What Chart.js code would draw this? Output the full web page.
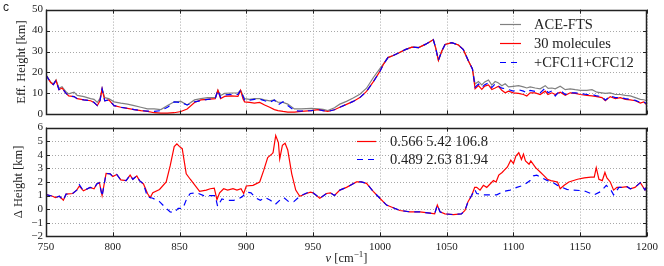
<!DOCTYPE html>
<html><head><meta charset="utf-8">
<script src="https://cdn.jsdelivr.net/npm/chart.js@4.4.1/dist/chart.umd.min.js"></script>
<style>
html,body{margin:0;padding:0;background:#fff;}
#wrap{position:relative;width:664px;height:266px;overflow:hidden;background:#fff;}
canvas{position:absolute;left:0;}
</style></head><body>
<div id="wrap">
<canvas id="top" width="664" height="124" style="top:0"></canvas>
<canvas id="bot" width="664" height="148" style="top:118px"></canvas>
</div>
<script>
// ---------- data (wavenumber in cm^-1, value) ----------
const wavenumberTicks = [750,800,850,900,950,1000,1050,1100,1150,1200];
const effHeightTicks = [0,10,20,30,40,50];
const deltaTicks = [-2,-1,0,1,2,3,4,5,6];
const topLegendLabels = ['ACE-FTS','30 molecules','+CFC11+CFC12'];
const botLegendLabels = ['0.566 5.42 106.8','0.489 2.63 81.94'];
const xAxisTitle = ['ν', ' [cm', '−1', ']'];

const aceFtsHeight = [[750,18.8],[753.5,15.5],[755.5,14.5],[757.5,16.5],[759.7,12.5],[762,13.2],[764.7,11.0],[767,9.8],[771,10.6],[773.4,9.1],[778.4,8.5],[783.4,7.5],[786,7.2],[788.4,5.7],[790.4,7.5],[792,12.2],[794,8.0],[797,7.5],[801,6.0],[806,5.4],[811,4.9],[816,4.2],[821,3.4],[826,2.6],[831,2.6],[836,2.3],[841,4.2],[846,6.0],[851,6.2],[855.7,4.5],[861.2,6.9],[866,7.5],[871,8.0],[876.7,8.0],[878.7,11.5],[880.7,9.0],[883.7,10.0],[888.7,10.2],[893.7,10.2],[895.7,11.5],[898.7,7.5],[902.5,7.2],[906,7.5],[910,7.5],[913.7,6.9],[917.5,6.5],[921,6.9],[923.7,5.8],[927.5,5.7],[931,4.9],[936,2.6],[941,2.6],[948.7,2.9],[953.7,2.6],[957.5,2.4],[961,1.8],[966,3.2],[970,4.9],[975,6.2],[980,7.8],[985,9.6],[990,12.5],[995,17.5],[1000,21.8],[1002.5,24.0],[1006,27.1],[1010,28.1],[1014,29.3],[1019,30.9],[1024,32.1],[1029,31.9],[1034,33.4],[1037.5,34.7],[1040,35.7],[1041.8,31.6],[1043.8,25.8],[1046.3,30.1],[1048.8,33.4],[1053.8,34.2],[1058.8,33.1],[1062.5,30.9],[1066.3,25.5],[1069.3,21.7],[1071.3,14.5],[1073.8,15.7],[1076.3,14.1],[1078.5,15.5],[1081.3,16.4],[1083.8,14.0],[1086.3,15.7],[1088.8,15.0],[1091.3,13.7],[1093.8,14.6],[1096.3,13.1],[1100,13.4],[1103.8,13.7],[1107.5,13.1],[1110,12.6],[1112.5,13.1],[1116.3,12.6],[1120,12.2],[1123.8,13.7],[1126,12.4],[1128.8,12.6],[1131.3,12.2],[1135,13.4],[1138.8,11.8],[1142.5,12.2],[1146.3,11.8],[1150,11.5],[1155,11.5],[1158.8,11.8],[1162.5,10.6],[1166.3,10.3],[1168.8,10.0],[1172.5,10.3],[1176.3,9.5],[1180,9.5],[1183.8,9.1],[1187.5,8.8],[1191.3,8.0],[1195,7.2],[1197.5,7.0],[1200,6.5]];

const molecules30Height = [[750,18.8],[753.5,15.2],[755.5,14.2],[757.5,16.2],[759.7,11.8],[762,12.6],[764.7,10.3],[767,8.8],[771,8.5],[773.4,7.5],[778.4,6.9],[783.4,6.5],[786,5.7],[788.4,4.2],[790.4,6.5],[792,12.2],[794,6.5],[797,6.9],[801,4.2],[806,3.4],[811,2.9],[816,2.3],[821,1.8],[826,1.4],[831,0.8],[836,0.6],[841,0.6],[846,0.8],[851,1.4],[855.7,2.6],[861.2,5.7],[866,6.9],[871,7.2],[876.7,7.5],[878.7,11.5],[880.7,7.5],[883.7,8.6],[888.7,8.8],[893.7,8.6],[895.7,11.5],[897.5,7.5],[898.7,6.0],[902.5,5.7],[906,5.4],[910,5.7],[913.7,4.5],[917.5,3.4],[921,2.3],[923.7,1.8],[927.5,1.4],[931,1.1],[936,1.1],[941,1.4],[948.7,1.8],[953.7,2.3],[957.5,1.8],[961,1.4],[966,2.2],[970,3.4],[975,4.8],[980,6.2],[985,8.0],[990,11.0],[995,15.5],[1000,20.5],[1002.5,23.7],[1006,27.1],[1010,28.1],[1014,29.3],[1019,30.9],[1024,32.1],[1029,31.9],[1034,33.4],[1037.5,34.7],[1040,35.7],[1041.8,31.6],[1043.8,25.8],[1046.3,30.1],[1048.8,33.4],[1053.8,34.2],[1058.8,33.1],[1062.5,30.9],[1066.3,25.5],[1069.3,21.7],[1071.3,12.2],[1073.8,13.7],[1076.3,11.9],[1078.5,13.5],[1081.3,14.1],[1083.8,11.9],[1086.3,12.6],[1088.8,13.4],[1091.3,11.5],[1093.8,10.3],[1096.3,11.1],[1100,10.3],[1103.8,10.0],[1107.5,9.5],[1110,8.8],[1112.5,10.3],[1116.3,10.3],[1120,9.5],[1123.8,11.1],[1125.8,9.5],[1128.8,10.3],[1131.3,9.5],[1135,10.6],[1138.8,9.1],[1142.5,10.3],[1146.3,10.0],[1150,9.5],[1155,9.1],[1158.8,8.8],[1162.5,8.5],[1166.3,8.0],[1168.8,6.5],[1172.5,8.5],[1176.3,7.5],[1180,8.0],[1183.8,7.2],[1187.5,6.9],[1191.3,6.5],[1195,5.4],[1197.5,6.0],[1200,4.5]];

const cfcHeight = [[750,18.8],[753.5,15.2],[755.5,14.2],[757.5,16.2],[759.7,11.8],[762,12.6],[764.7,10.3],[767,8.8],[771,8.5],[773.4,7.5],[778.4,6.9],[783.4,6.5],[786,5.7],[788.4,4.2],[790.4,6.5],[792,12.2],[794,6.5],[797,6.9],[801,4.2],[806,3.4],[811,2.9],[816,2.3],[821,1.8],[826,1.6],[831,1.4],[836,1.8],[841,3.4],[846,6.0],[851,5.7],[855.7,4.5],[861.2,6.0],[866,6.5],[871,7.2],[876.7,7.5],[878.7,11.5],[880.7,8.0],[883.7,9.3],[888.7,9.6],[893.7,9.5],[895.7,11.5],[898.7,6.8],[902.5,6.8],[906,7.2],[910,7.3],[913.7,6.5],[917.5,5.7],[921,6.9],[923.7,4.5],[927.5,6.0],[931,4.2],[936,1.8],[941,1.6],[948.7,1.8],[953.7,2.3],[957.5,1.8],[961,1.4],[966,2.2],[970,3.4],[975,4.8],[980,6.2],[985,8.0],[990,11.0],[995,15.5],[1000,20.5],[1002.5,23.7],[1006,27.1],[1010,28.1],[1014,29.3],[1019,30.9],[1024,32.1],[1029,31.9],[1034,33.4],[1037.5,34.7],[1040,35.7],[1041.8,31.6],[1043.8,25.8],[1046.3,30.1],[1048.8,33.4],[1053.8,34.2],[1058.8,33.1],[1062.5,30.9],[1066.3,25.5],[1069.3,21.7],[1071.3,13.0],[1073.8,14.5],[1076.3,12.8],[1078.5,14.2],[1081.3,15.0],[1083.8,12.8],[1086.3,14.6],[1088.8,13.5],[1091.3,12.5],[1093.8,12.3],[1096.3,11.8],[1100,11.1],[1103.8,11.8],[1107.5,11.1],[1110,10.3],[1112.5,11.5],[1116.3,11.0],[1120,10.3],[1123.8,12.6],[1126,10.3],[1128.8,11.2],[1131.3,8.8],[1135,11.5],[1138.8,9.5],[1142.5,10.3],[1146.3,10.3],[1150,10.0],[1155,9.5],[1158.8,9.5],[1162.5,8.8],[1166.3,8.5],[1168.8,6.8],[1172.5,8.8],[1176.3,8.0],[1180,8.0],[1183.8,7.5],[1187.5,7.2],[1191.3,6.7],[1195,5.7],[1197.5,6.0],[1200,4.9]];

const delta30 = [[750,1.07],[755,0.95],[757,0.85],[760,0.95],[763,0.65],[765,1.1],[770,1.15],[773,1.4],[775,1.7],[778,1.35],[780,1.45],[783,1.6],[786,1.5],[788,1.85],[790,1.95],[792,1.0],[795,2.63],[798,2.6],[800,2.4],[803,2.55],[806,2.15],[810,2.1],[813,2.5],[815,2.2],[818,2.45],[820,2.1],[823,1.85],[826,1.15],[828,0.85],[830,1.2],[835,1.45],[840,2.0],[843,3.2],[846,4.6],[848,4.8],[850,4.6],[852,4.45],[855,2.6],[858,2.2],[860,1.95],[865,1.3],[870,1.4],[873,1.5],[876,1.55],[878,0.7],[880,1.2],[883,1.5],[886,1.4],[890,1.5],[893,1.4],[896,1.5],[898,1.15],[900,1.7],[905,1.75],[910,2.0],[913,2.85],[916,3.8],[919,4.05],[920,4.15],[922,5.42],[924,4.9],[925,3.7],[927,4.7],[929,4.85],[931,4.35],[934,2.6],[937,1.4],[940,0.95],[945,1.15],[948,1.25],[950,1.2],[955,0.8],[960,1.15],[963,1.2],[966,1.0],[970,1.4],[975,1.6],[982.5,2.0],[986,2.0],[990,1.9],[995,1.3],[1000,0.8],[1005,0.3],[1010,0.1],[1015,-0.1],[1022.5,-0.2],[1030,-0.2],[1037.5,-0.3],[1041,-0.35],[1043,0.3],[1045,-0.2],[1048.7,-0.35],[1055,-0.4],[1061,-0.35],[1063.7,-0.1],[1066,0.55],[1068.7,1.0],[1071,1.6],[1072.5,1.6],[1075,1.4],[1077.5,1.75],[1080,1.6],[1082.5,1.85],[1085,2.1],[1087,2.0],[1089,2.5],[1091.5,2.7],[1093,2.85],[1095.5,3.1],[1098,3.6],[1100,3.35],[1101.8,3.9],[1104,4.15],[1106,3.65],[1107.5,4.05],[1109,3.55],[1111.7,3.3],[1113,3.55],[1116.6,3.05],[1120.4,2.7],[1123,2.45],[1125.4,2.2],[1128,2.1],[1133,2.0],[1135,1.5],[1138,1.75],[1141.5,2.0],[1148,2.2],[1153,2.3],[1158,2.35],[1160.5,2.35],[1162,3.05],[1164,2.2],[1166.5,2.1],[1168.5,2.7],[1170,2.3],[1172.5,2.0],[1175,1.4],[1177.5,1.6],[1181,1.6],[1185,1.65],[1187.5,1.5],[1191,1.6],[1195,1.95],[1198.5,1.4],[1200,1.7]];

const deltaCfc = [[750,1.07],[755,0.95],[757,0.85],[760,0.95],[763,0.65],[765,1.1],[770,1.15],[773,1.4],[775,1.8],[778,1.35],[780,1.45],[783,1.6],[786,1.5],[788,1.85],[790,1.95],[792,0.95],[795,2.63],[798,2.6],[800,2.4],[803,2.55],[806,2.15],[810,2.1],[813,2.5],[815,2.2],[818,2.45],[820,2.1],[823,1.85],[826,0.9],[830,0.8],[835,0.55],[839,0.15],[843,-0.2],[846,-0.25],[849,0.05],[852.5,0.05],[855.5,0.8],[858,1.15],[863,1.2],[868,1.0],[873,1.0],[876.7,1.0],[878.5,0.2],[881.7,0.75],[885.5,0.65],[890.5,0.65],[894,0.75],[896.7,0.9],[900.5,1.25],[903.5,1.2],[906.7,0.85],[910.5,0.65],[914.2,0.85],[918,0.65],[921.7,0.35],[925.5,0.7],[928,0.85],[931.7,0.55],[935.5,0.55],[939,0.85],[943,1.1],[946.7,1.25],[950,1.2],[955,0.8],[960,1.15],[963,1.2],[966,1.0],[970,1.4],[975,1.6],[982.5,2.0],[986,2.0],[990,1.9],[995,1.3],[1000,0.8],[1005,0.3],[1010,0.1],[1015,-0.1],[1022.5,-0.2],[1030,-0.2],[1037.5,-0.3],[1041,-0.35],[1043,0.3],[1045,-0.2],[1048.7,-0.35],[1055,-0.4],[1061,-0.35],[1063.7,-0.1],[1066,0.55],[1068.7,1.0],[1071,1.45],[1072.5,1.15],[1077.5,1.05],[1082.5,1.05],[1087.5,1.05],[1092.5,1.3],[1097.5,1.4],[1102.5,1.6],[1107.5,1.75],[1112.5,2.1],[1115,2.45],[1117.5,2.5],[1121.5,2.3],[1125.5,2.1],[1129,2.0],[1133,1.75],[1136.5,1.6],[1140,1.45],[1145,1.4],[1153,1.35],[1160.5,1.05],[1165.5,1.3],[1169.5,1.75],[1173,1.4],[1175,1.05],[1179,1.6],[1181,1.6],[1185,1.65],[1187.5,1.5],[1191,1.6],[1195,1.95],[1198.5,1.4],[1200,1.7]];

// ---------- styling ----------
const SERIF = "'Liberation Serif', 'Times New Roman', serif";
const TXT = '#222';
const GRID = '#a8a8a8';
const C_GRAY = '#808080', C_RED = '#ff0000', C_BLUE = '#0000ff';
const pts = a => a.map(p => ({x: p[0], y: p[1]}));

const framePlugin = {
  id: 'frame',
  beforeDatasetsDraw(chart) {
    const {ctx, chartArea: a, scales} = chart;
    ctx.save();
    ctx.strokeStyle = GRID; ctx.lineWidth = 1; ctx.setLineDash([1, 2]);
    ctx.beginPath();
    scales.x.ticks.forEach(t => {
      const px = Math.round(scales.x.getPixelForValue(t.value)) + 0.5;
      ctx.moveTo(px, a.top); ctx.lineTo(px, a.bottom);
    });
    scales.y.ticks.forEach(t => {
      const py = Math.round(scales.y.getPixelForValue(t.value)) + 0.5;
      ctx.moveTo(a.left, py); ctx.lineTo(a.right, py);
    });
    ctx.stroke();
    ctx.restore();
  },
  afterDatasetsDraw(chart) {
    const {ctx, chartArea: a, scales} = chart;
    ctx.save();
    ctx.strokeStyle = '#222';
    ctx.lineWidth = 1;
    const L = 4;
    ctx.beginPath();
    scales.x.ticks.forEach(t => {
      const px = Math.round(scales.x.getPixelForValue(t.value)) + 0.5;
      ctx.moveTo(px, a.bottom); ctx.lineTo(px, a.bottom - L);
      ctx.moveTo(px, a.top); ctx.lineTo(px, a.top + L);
    });
    scales.y.ticks.forEach(t => {
      const py = Math.round(scales.y.getPixelForValue(t.value)) + 0.5;
      ctx.moveTo(a.left, py); ctx.lineTo(a.left + L, py);
      ctx.moveTo(a.right, py); ctx.lineTo(a.right - L, py);
    });
    ctx.stroke();
    ctx.lineWidth = 1.5;
    ctx.strokeRect(Math.round(a.left) + 0.5, Math.round(a.top) + 0.5,
                   Math.round(a.right - a.left) - 1, Math.round(a.bottom - a.top) - 1);
    ctx.restore();
  },
  afterDraw(chart, args, opts) {
    const {ctx, chartArea: a} = chart;
    ctx.save();
    ctx.fillStyle = TXT; ctx.textBaseline = 'alphabetic'; ctx.textAlign = 'left';
    if (opts.letter) {
      ctx.font = "12px 'Liberation Sans', sans-serif";
      ctx.textBaseline = 'middle';
      ctx.fillText(opts.letter, 3, 8);
    }
    if (opts.xTitle) {
      const parts = opts.xTitle;
      const fMain = "italic 12.5px 'Liberation Serif', serif";
      const fUp = "12.5px 'Liberation Serif', serif";
      const fSup = "9px 'Liberation Serif', serif";
      ctx.textBaseline = 'alphabetic';
      const fonts = [fMain, fUp, fSup, fUp];
      const widths = parts.map((p, i) => { ctx.font = fonts[i]; return ctx.measureText(p).width; });
      const total = widths.reduce((s, w) => s + w, 0);
      let x = (a.left + a.right) / 2 - total / 2;
      const base = opts.xTitleY;
      parts.forEach((p, i) => {
        ctx.font = fonts[i];
        ctx.fillText(p, x, i === 2 ? base - 5 : base);
        x += widths[i];
      });
    }
    const lg = opts.legend;
    if (lg) {
      lg.order.forEach((di, i) => {
        const ds = chart.data.datasets[di];
        const y = lg.rows[i];
        ctx.strokeStyle = ds.borderColor;
        ctx.lineWidth = ds.borderWidth;
        ctx.setLineDash(ds.borderDash || []);
        ctx.beginPath(); ctx.moveTo(lg.x0, y + 0.5); ctx.lineTo(lg.x1, y + 0.5); ctx.stroke();
        ctx.setLineDash([]);
        ctx.font = lg.font;
        ctx.textBaseline = 'middle';
        ctx.fillText(ds.label, lg.xt, y + 1);
      });
    }
    ctx.restore();
  }
};

function xScale(showLabels) {
  return {
    type: 'linear', min: 750, max: 1200,
    afterBuildTicks: s => { s.ticks = wavenumberTicks.map(v => ({value: v})); },
    afterFit: s => { s.height = showLabels ? 29.7 : 8; },
    grid: {display: false, drawTicks: false, tickLength: 0},
    border: {display: false},
    ticks: {display: showLabels, padding: 4, autoSkip: false, maxRotation: 0, color: TXT,
      font: {family: SERIF, size: 11}, callback: v => String(v)}
  };
}
function yScale(min, max, tickArr, title, titlePad) {
  return {
    type: 'linear', min: min, max: max,
    afterBuildTicks: s => { s.ticks = tickArr.map(v => ({value: v})); },
    afterFit: s => { s.width = 46; },
    grid: {display: false, drawTicks: false, tickLength: 0},
    border: {display: false},
    ticks: {padding: 3, autoSkip: false, color: TXT, font: {family: SERIF, size: 11},
      callback: v => (v < 0 ? '−' + Math.abs(v) : String(v))},
    title: {display: true, text: title, color: TXT, font: {family: SERIF, size: 12.5},
      padding: {top: titlePad, bottom: 0}}
  };
}
const lineDs = (label, data, color, dash, order) => ({
  label, data: pts(data), borderColor: color, borderWidth: 1.2,
  borderDash: dash, pointRadius: 0, fill: false, tension: 0, order
});

new Chart(document.getElementById('top'), {
  type: 'line',
  data: {datasets: [
    lineDs(topLegendLabels[0], aceFtsHeight, C_GRAY, [], 3),
    lineDs(topLegendLabels[1], molecules30Height, C_RED, [], 2),
    lineDs(topLegendLabels[2], cfcHeight, C_BLUE, [6, 5], 1)
  ]},
  options: {
    responsive: false, animation: false, devicePixelRatio: 1,
    layout: {padding: {left: 0, right: 17, top: 6.3, bottom: 0}},
    scales: {x: xScale(false), y: yScale(0, 50, effHeightTicks, 'Eff. Height [km]', 14.5)},
    plugins: {
      legend: {display: false}, tooltip: {enabled: false},
      frame: {letter: 'c', legend: {order: [0, 1, 2], x0: 500, x1: 521, xt: 534, rows: [24, 43, 62],
        font: "14.5px 'Liberation Serif', serif"}}
    }
  },
  plugins: [framePlugin]
});

new Chart(document.getElementById('bot'), {
  type: 'line',
  data: {datasets: [
    lineDs(botLegendLabels[0], delta30, C_RED, [], 2),
    lineDs(botLegendLabels[1], deltaCfc, C_BLUE, [6, 5], 1)
  ]},
  options: {
    responsive: false, animation: false, devicePixelRatio: 1,
    layout: {padding: {left: 0, right: 17, top: 8.5, bottom: 0}},
    scales: {x: xScale(true), y: yScale(-2, 6, deltaTicks, 'Δ Height [km]', 11)},
    plugins: {
      legend: {display: false}, tooltip: {enabled: false},
      frame: {xTitle: xAxisTitle, xTitleY: 144,
        legend: {order: [0, 1], x0: 357, x1: 376, xt: 390, rows: [141 - 118, 159 - 118],
        font: "14.5px 'Liberation Serif', serif"}}
    }
  },
  plugins: [framePlugin]
});
</script>
</body></html>
